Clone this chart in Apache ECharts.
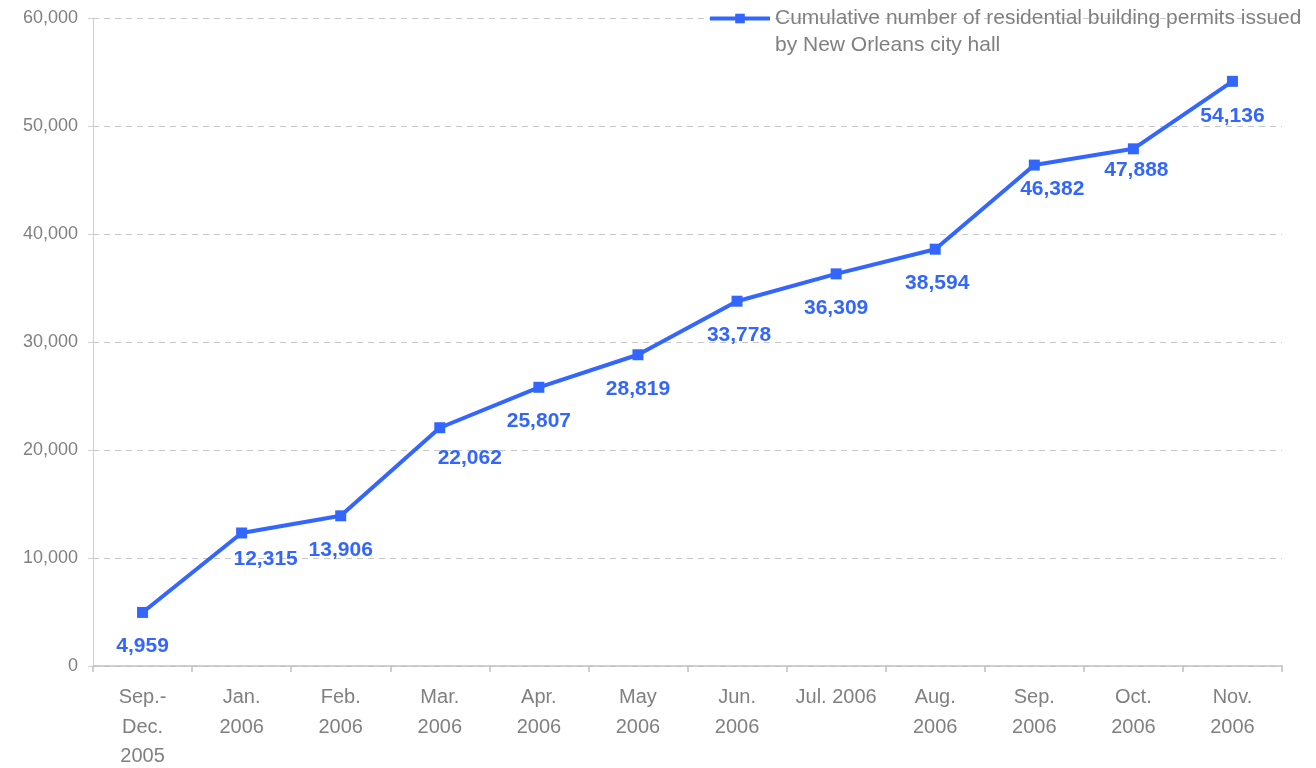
<!DOCTYPE html>
<html>
<head>
<meta charset="utf-8">
<script src="https://cdn.jsdelivr.net/npm/echarts@6/dist/echarts.min.js"></script>
<style>
  html, body { margin: 0; padding: 0; background: #fff; }
  #chart { width: 1316px; height: 768px; }
</style>
</head>
<body>
<div id="chart"></div>
<script>
const categories = ["Sep.-\nDec.\n2005", "Jan.\n2006", "Feb.\n2006", "Mar.\n2006", "Apr.\n2006", "May\n2006",
  "Jun.\n2006", "Jul. 2006", "Aug.\n2006", "Sep.\n2006", "Oct.\n2006", "Nov.\n2006"];
const permits = [4959, 12315, 13906, 22062, 25807, 28819, 33778, 36309, 38594, 46382, 47888, 54136];
// label nudges (x, y in px, relative to point)
const labelOffsets = [[0, 34], [24, 26], [0, 34], [30, 30], [0, 34], [0, 34], [2, 34], [0, 34], [2, 34], [18, 24], [3, 21], [0, 35]];
const seriesName = "Cumulative number of residential building permits issued\nby New Orleans city hall";

const chart = echarts.init(document.getElementById("chart"));
const blue = "#3366ff";
const grey = "#808080";

const option = {
  animation: false,
  textStyle: { fontFamily: "Liberation Sans, Arial, sans-serif" },
  grid: { left: 93, right: 34, top: 18, bottom: 102, containLabel: false, outerBoundsMode: "none" },
  legend: {
    data: [seriesName],
    left: 708,
    top: -22,
    padding: 0,
    itemWidth: 60,
    itemHeight: 12,
    lineStyle: { width: 4 },
    // empty first line so the icon lines up with the first text line
    formatter: name => "\n" + name,
    textStyle: { color: grey, fontSize: 21, lineHeight: 27 }
  },
  xAxis: {
    type: "category",
    data: categories,
    boundaryGap: true,
    axisLine: { lineStyle: { color: "#c0c0c0", width: 1.5 } },
    axisTick: { show: true, length: 6, lineStyle: { color: "#c0c0c0", width: 1.5 } },
    axisLabel: { color: grey, fontSize: 20, lineHeight: 29.5, margin: 17, interval: 0 }
  },
  yAxis: {
    type: "value",
    min: 0,
    max: 60000,
    interval: 10000,
    axisLine: { show: true, lineStyle: { color: "#d0d0d0", width: 1 } },
    axisTick: { show: true, length: 5, lineStyle: { color: "#d0d0d0" } },
    splitLine: { lineStyle: { color: "#c8c8c8", type: [6, 5] } },
    axisLabel: {
      color: grey, fontSize: 18, margin: 15,
      formatter: v => v.toLocaleString("en-US")
    }
  },
  series: [{
    name: seriesName,
    type: "line",
    data: permits.map((v, i) => ({
      value: v,
      label: { offset: labelOffsets[i] }
    })),
    symbol: "rect",
    symbolSize: 11,
    lineStyle: { color: blue, width: 4 },
    itemStyle: { color: blue },
    label: {
      show: true,
      position: "inside",
      color: blue,
      fontSize: 21,
      fontWeight: "bold",
      formatter: p => p.value.toLocaleString("en-US")
    }
  }]
};
chart.setOption(option);
</script>
</body>
</html>
